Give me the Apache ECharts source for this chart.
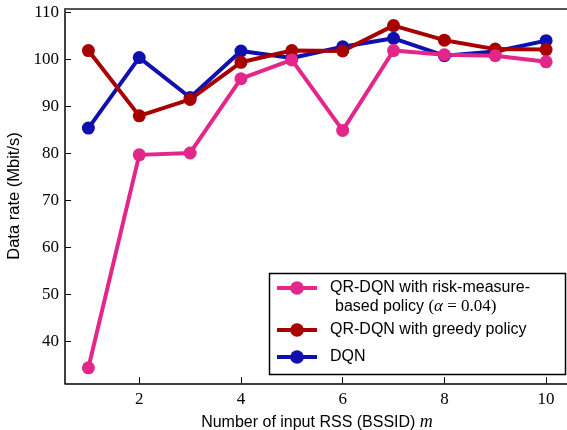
<!DOCTYPE html>
<html>
<head>
<meta charset="utf-8">
<script src="https://cdn.jsdelivr.net/npm/echarts@6/dist/echarts.min.js"></script>
<style>
  html, body { margin: 0; padding: 0; background: #fff; }
  #chart { width: 567px; height: 430px; }
</style>
</head>
<body>
<div id="chart"></div>
<script>
// number of input RSS m
const mValues = [1, 2, 3, 4, 5, 6, 7, 8, 9, 10];
const xTicks = [2, 4, 6, 8, 10];
const yTicks = [40, 50, 60, 70, 80, 90, 100, 110];

// data rate (Mbit/s)
const riskRate = [34.4, 79.7, 80.1, 95.9, 99.9, 84.9, 101.9, 101.0, 100.8, 99.5];
const greedyRate = [101.9, 88.0, 91.5, 99.4, 101.9, 101.8, 107.2, 104.1, 102.2, 102.1];
const dqnRate = [85.4, 100.4, 91.9, 101.8, 100.3, 102.7, 104.5, 100.8, 101.7, 104.0];

const RISK_NAME = "QR-DQN with risk-measure-based policy";
const GREEDY_NAME = "QR-DQN with greedy policy";
const DQN_NAME = "DQN";

const SANS = "Liberation Sans";
const SERIF = "Liberation Serif";

function pairs(ys) {
  return mValues.map((m, i) => [m, ys[i]]);
}

function lineSeries(name, color, ys) {
  return {
    name: name,
    type: "line",
    data: pairs(ys),
    symbol: "circle",
    symbolSize: 13,
    lineStyle: { width: 4, color: color },
    itemStyle: { color: color },
    animation: false,
  };
}

function legendItem(name, top, label) {
  return {
    data: [name],
    left: 275,
    top: top,
    orient: "vertical",
    padding: 0,
    itemWidth: 40,
    itemHeight: 17,
    selectedMode: false,
    lineStyle: { width: 4 },
    formatter: label ? () => label : undefined,
    textStyle: {
      fontFamily: SANS,
      fontSize: 16,
      color: "#000",
      lineHeight: 18,
      padding: [0, 0, 0, 8],
    },
  };
}

const chart = echarts.init(document.getElementById("chart"));

chart.setOption({
  backgroundColor: "#fff",
  animation: false,
  grid: { left: 65, right: -2, top: 8.7, bottom: 46.7, outerBoundsMode: "none", containLabel: false },
  xAxis: [
    {
      type: "value",
      min: 0.54,
      max: 10.45,
      name: "Number of input RSS (BSSID) {m|m}",
      nameLocation: "middle",
      nameGap: 26,
      nameTextStyle: {
        fontFamily: SANS,
        fontSize: 16,
        color: "#000",
        rich: {
          m: { fontFamily: SERIF, fontStyle: "italic", fontSize: 18, color: "#000" },
        },
      },
      axisLine: { lineStyle: { color: "#000", width: 1.5 } },
      axisTick: { inside: true, length: 6, customValues: xTicks, lineStyle: { color: "#000", width: 1 } },
      axisLabel: { customValues: xTicks, margin: 8, fontFamily: SERIF, fontSize: 17, color: "#000" },
      splitLine: { show: false },
    },
    {
      // top spine
      type: "value",
      position: "top",
      min: 0.54,
      max: 10.45,
      axisLine: { lineStyle: { color: "#555", width: 2 } },
      axisTick: { show: false },
      axisLabel: { show: false },
      splitLine: { show: false },
    },
  ],
  yAxis: {
    type: "value",
    min: 31.1,
    max: 110.8,
    name: "Data rate (Mbit/s)",
    nameLocation: "middle",
    nameGap: 36,
    nameTextStyle: { fontFamily: SANS, fontSize: 16.5, color: "#000" },
    axisLine: { show: true, lineStyle: { color: "#000", width: 1.5 } },
    axisTick: { show: true, inside: true, length: 6, customValues: yTicks, lineStyle: { color: "#000", width: 1 } },
    axisLabel: { customValues: yTicks, margin: 6, fontFamily: SERIF, fontSize: 17, color: "#000" },
    splitLine: { show: false },
  },
  legend: [
    legendItem(RISK_NAME, 279, "QR-DQN with risk-measure-"),
    legendItem(GREEDY_NAME, 321),
    legendItem(DQN_NAME, 348),
  ],
  graphic: [
    {
      type: "rect",
      z: 3,
      shape: { x: 269.5, y: 273.5, width: 296, height: 101 },
      style: { fill: "#fff", stroke: "#000", lineWidth: 1.5 },
    },
    {
      type: "text",
      z: 5,
      x: 335,
      y: 298,
      style: {
        text: "based policy {s|(}{i|α}{s| = 0.04)}",
        fontFamily: SANS,
        fontSize: 16,
        fill: "#000",
        rich: {
          s: { fontFamily: SERIF, fontSize: 17, fill: "#000" },
          i: { fontFamily: SERIF, fontStyle: "italic", fontSize: 17, fill: "#000" },
        },
      },
    },
  ],
  series: [
    lineSeries(DQN_NAME, "#1010b0", dqnRate),
    lineSeries(GREEDY_NAME, "#a80000", greedyRate),
    lineSeries(RISK_NAME, "#e3268a", riskRate),
  ],
});
</script>
</body>
</html>
